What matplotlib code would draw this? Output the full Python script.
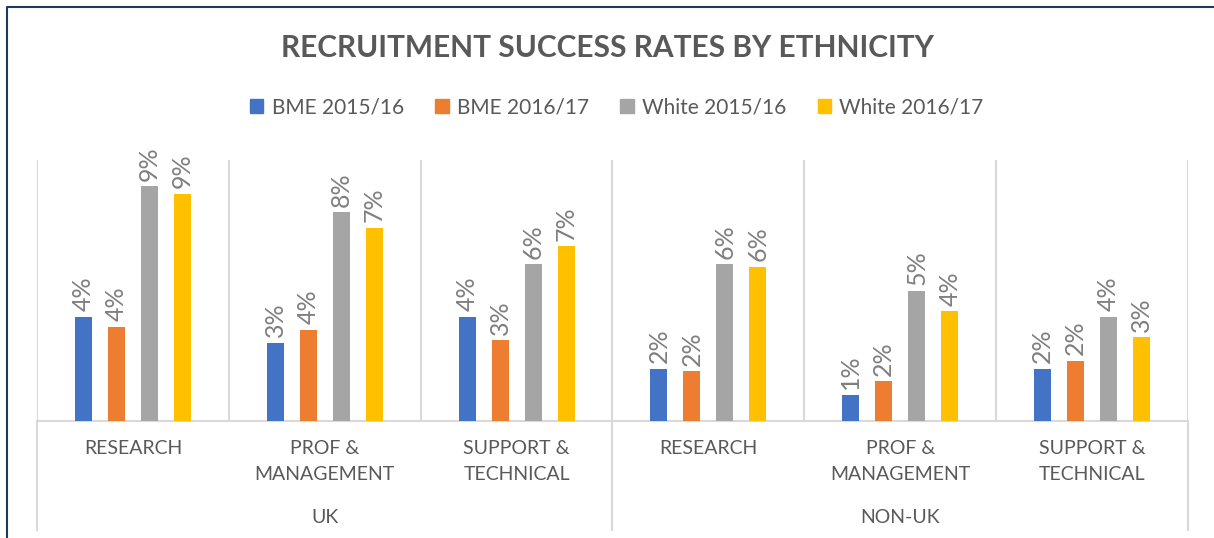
import numpy as np
import matplotlib.pyplot as plt
from matplotlib.lines import Line2D
from matplotlib.patches import Patch
import matplotlib.transforms as mtransforms

plt.rcParams['font.family'] = ['Lato', 'DejaVu Sans']

# success rates in %
categories = ['RESEARCH', 'PROF &\nMANAGEMENT', 'SUPPORT &\nTECHNICAL',
              'RESEARCH', 'PROF &\nMANAGEMENT', 'SUPPORT &\nTECHNICAL']
groups = ['UK', 'NON-UK']
series = ['BME 2015/16', 'BME 2016/17', 'White 2015/16', 'White 2016/17']
bme_1516 = [4.0, 3.0, 4.0, 2.0, 1.0, 2.0]
bme_1617 = [3.6, 3.5, 3.1, 1.9, 1.52, 2.3]
white_1516 = [9.0, 8.0, 6.0, 6.0, 5.0, 4.0]
white_1617 = [8.7, 7.4, 6.7, 5.9, 4.2, 3.2]
colors = ['#4472C4', '#ED7D31', '#A5A5A5', '#FFC000']

W, H = 1214, 538
fig = plt.figure(figsize=(W / 100, H / 100), dpi=100)
ax = fig.add_axes([37 / W, 1 - 421 / H, 1151 / W, 261 / H])

x = np.arange(len(categories))
offsets = [-1.5, -0.5, 0.5, 1.5]
step = 0.172
bw = 0.089
for vals, off, c in zip([bme_1516, bme_1617, white_1516, white_1617], offsets, colors):
    bars = ax.bar(x + off * step, vals, width=bw, color=c, zorder=3)
    for b, v in zip(bars, vals):
        ax.annotate(f'{v:.0f}%', (b.get_x() + b.get_width() / 2, v),
                    xytext=(0, 4), textcoords='offset points',
                    rotation=90, ha='center', va='bottom',
                    fontsize=18, color='#7F7F7F')

ax.set_xlim(-0.5, len(categories) - 0.5)
ax.set_ylim(0, 10)
ax.set_yticks([])
for s in ['left', 'right', 'top']:
    ax.spines[s].set_visible(False)
ax.spines['bottom'].set_color('#D9D9D9')
ax.spines['bottom'].set_linewidth(1.5)

# vertical separators between categories
for b in np.arange(-0.5, len(categories), 1.0):
    ax.axvline(b, color='#D9D9D9', lw=1.5, zorder=1)

# group separators reaching down below the axis
trans = mtransforms.blended_transform_factory(ax.transData, ax.transAxes)
for b in [-0.5, 2.5, 5.5]:
    ax.plot([b, b], [0, -109 / 261], transform=trans, color='#D9D9D9',
            lw=1.5, clip_on=False)

ax.set_xticks(x)
ax.set_xticklabels(categories, fontsize=14, color='#595959', linespacing=1.6)
ax.tick_params(axis='x', length=0, pad=14)

for gi, g in enumerate(groups):
    ax.text(gi * 3 + 1, -(523 - 421) / 261, g, transform=trans, ha='center',
            va='baseline', fontsize=14, color='#595959')

fig.text(0.5, 1 - 48 / H, 'RECRUITMENT SUCCESS RATES BY ETHNICITY',
         ha='center', va='center', fontsize=21.5, fontweight='bold', color='#595959')

handles = [Patch(color=c) for c in colors]
fig.legend(handles, series, loc='center', bbox_to_anchor=(0.508, 1 - 107 / H),
           ncol=4, frameon=False, fontsize=15, labelcolor='#595959',
           handlelength=0.65, handleheight=0.65, handletextpad=0.4, columnspacing=1.5)

# chart frame (only left and top edges visible)
fig.add_artist(Line2D([7 / W, 7 / W, 1.0], [0.0, 1 - 7 / H, 1 - 7 / H],
                      transform=fig.transFigure, color='#203864', lw=1.5))

fig.savefig('out.png', dpi=100)
